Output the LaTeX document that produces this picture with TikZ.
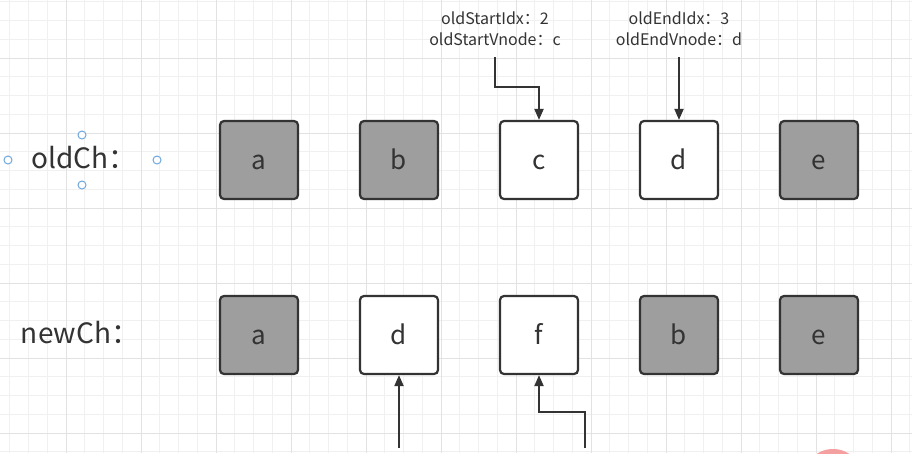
\documentclass[tikz,border=0pt]{standalone}
\usepackage{fontspec}
\setmainfont{Noto Sans CJK SC}
\usetikzlibrary{arrows.meta}
\definecolor{ink}{HTML}{333333}
\definecolor{boxgray}{HTML}{9E9E9E}
\definecolor{gridminor}{HTML}{F0F0F0}
\definecolor{gridmajor}{HTML}{E2E2E2}
\definecolor{handle}{HTML}{6FA8DC}
\definecolor{pinkmark}{HTML}{F4A0A0}
\tikzset{
  cell/.style={draw=ink, line width=2.2pt, rounded corners=4pt, minimum width=78pt, minimum height=78pt, inner sep=0pt, text=ink, text height=18pt, text depth=0pt, font=\fontsize{26}{30}\selectfont},
  done/.style={cell, fill=boxgray},
  open/.style={cell, fill=white},
  rowlabel/.style={text=ink, font=\fontsize{28}{32}\selectfont, inner sep=0pt},
  ptrlabel/.style={text=ink, font=\fontsize{16}{21}\selectfont, align=center, inner sep=0pt},
  arr/.style={draw=ink, line width=2pt, -{Triangle[length=11pt,width=9pt]}},
  hnd/.style={draw=handle, line width=1pt, fill=white},
}
\begin{document}
\begin{tikzpicture}[x=1pt,y=-1pt]
\useasboundingbox (0,0) rectangle (912,453);
\fill[white] (0,0) rectangle (912,453);
% grid
\foreach \i in {0,...,48} {
  \draw[gridminor, line width=1pt] ({9.75+18.75*\i},0) -- ({9.75+18.75*\i},453);
}
\foreach \i in {0,...,24} {
  \draw[gridminor, line width=1pt] (0,{1.75+18.75*\i}) -- (912,{1.75+18.75*\i});
}
\foreach \i in {0,...,12} {
  \draw[gridmajor, line width=1pt] ({-9+75*\i},0) -- ({-9+75*\i},453);
}
\foreach \i in {0,...,6} {
  \draw[gridmajor, line width=1pt] (0,{-17+75*\i}) -- (912,{-17+75*\i});
}
% pink marker at bottom edge
\begin{scope}
\clip (0,0) rectangle (912,453);
\fill[pinkmark] (833,479) circle (30pt);
\end{scope}
% row labels
\node[rowlabel] (oldlbl) at (84,158) {oldCh：};
\node[rowlabel] (newlbl) at (80,333) {newCh：};
% selection handles
\draw[hnd] (8,160) circle (4pt);
\draw[hnd] (157,160) circle (4pt);
\draw[hnd] (82,135) circle (4pt);
\draw[hnd] (82,185) circle (4pt);
% old row
\node[done] (o1) at (259,160) {a};
\node[done] (o2) at (399,160) {b};
\node[open] (o3) at (539,160) {c};
\node[open] (o4) at (679,160) {d};
\node[done] (o5) at (819,160) {e};
% new row
\node[done] (n1) at (259,335) {a};
\node[open] (n2) at (399,335) {d};
\node[open] (n3) at (539,335) {f};
\node[done] (n4) at (679,335) {b};
\node[done] (n5) at (819,335) {e};
% pointer labels
\node[ptrlabel] (lsi) at (495,29) {oldStartIdx：2\\oldStartVnode：c};
\node[ptrlabel] (lei) at (679,29) {oldEndIdx：3\\oldEndVnode：d};
% pointer arrows
\coordinate (s1) at (495,57);
\coordinate (s2) at (679,57);
\coordinate (s3) at (399,448);
\coordinate (s4) at (585,448);
\draw[arr] (s1) -- (495,87) -| (o3.north);
\draw[arr] (s2) -- (o4.north);
\draw[arr] (s3) -- (n2.south);
\draw[arr] (s4) -- (585,412) -| (n3.south);
\end{tikzpicture}
\end{document}
